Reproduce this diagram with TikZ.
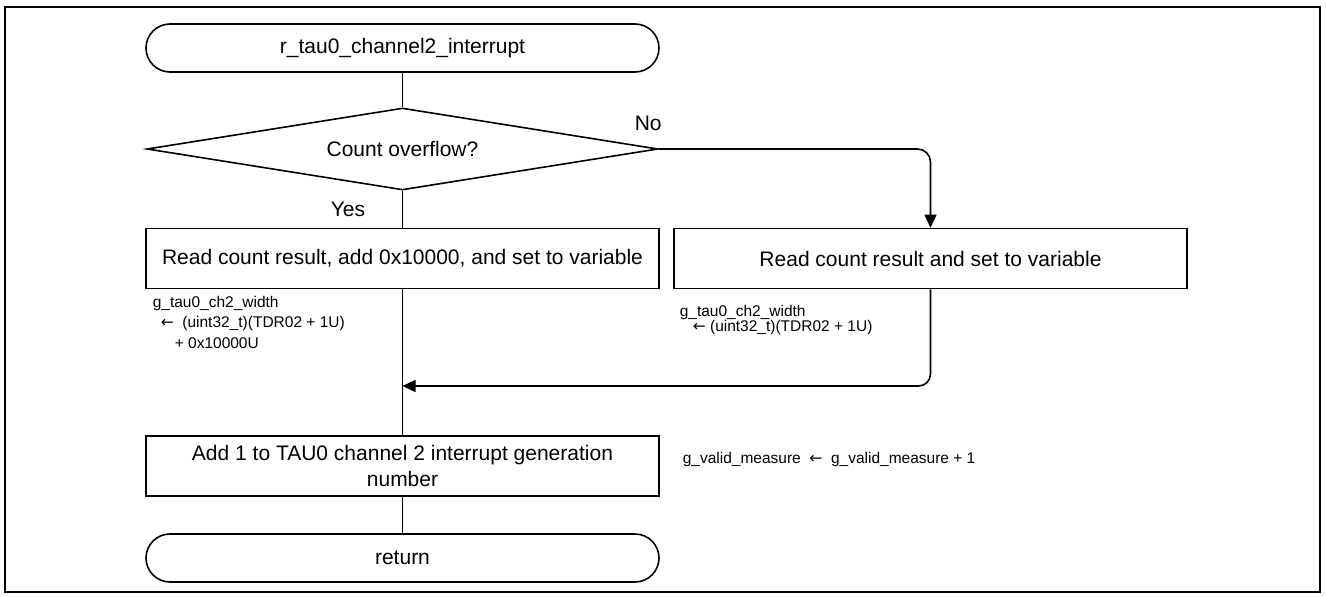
\documentclass[tikz,border=0pt]{standalone}
\usepackage{fontspec}
\setmainfont{Liberation Sans}
\newfontfamily\arrowfont{DejaVu Sans}
\newcommand{\larr}{{\arrowfont ←}}
\usetikzlibrary{shapes.geometric,arrows.meta}
\begin{document}
\begin{tikzpicture}[x=1pt,y=-1pt,
  line width=1.6pt,
  every node/.style={font=\fontsize{21}{25.5}\selectfont},
  term/.style={draw, rectangle, rounded corners=24pt, minimum width=513pt,
    minimum height=48pt, inner sep=0pt},
  proc/.style={draw, rectangle, minimum width=513pt, minimum height=60pt,
    inner sep=0pt, align=center},
  decision/.style={draw, diamond, aspect=6.2, minimum width=511pt,
    minimum height=82pt, inner sep=0pt},
  lbl/.style={inner sep=0pt},
  note/.style={font=\fontsize{15.5}{20}\selectfont, anchor=west, inner sep=0pt},
  arr/.style={-{Triangle[length=13pt,width=12pt]}},
]
\useasboundingbox (0,0) rectangle (1326,597);

% outer frame
\draw (5,7) rectangle (1320,592);

% flow elements
\node[term] (start) at (402.5,48) {r\_tau0\_channel2\_interrupt};
\node[decision] (dec) at (402.5,149) {Count overflow?};
\node[proc] (readadd) at (402.5,258.5) {Read count result, add 0x10000, and set to variable};
\node[proc] (read) at (930.5,258.5) {Read count result and set to variable};
\node[proc] (inc) at (402.5,466) {Add 1 to TAU0 channel 2 interrupt generation\\number};
\node[term] (ret) at (402.5,558) {return};

% branch labels
\node[lbl, anchor=west] (no) at (634,123) {No};
\node[lbl] (yes) at (348,209) {Yes};

% side notes
\node[note] (w1a) at (152,303) {g\_tau0\_ch2\_width};
\node[note] (w1b) at (160,323) {\larr\ \ (uint32\_t)(TDR02 + 1U)};
\node[note] (w1c) at (174,343) {+ 0x10000U};
\node[note] (w2a) at (679,312) {g\_tau0\_ch2\_width};
\node[note] (w2b) at (692,327) {\larr\ (uint32\_t)(TDR02 + 1U)};
\node[note] (cnt) at (682,459) {g\_valid\_measure \ \larr\ \ g\_valid\_measure + 1};

% merge point on the main line
\coordinate (join) at (402.5,386);

% connectors
\draw (start) -- (dec);
\draw (dec.south) -- (readadd.north);
\draw[arr, rounded corners=13pt] (dec.east) -| (read.north);
\draw (readadd) -- (inc);
\draw[arr, rounded corners=12pt] (read.south) |- (join);
\draw (inc) -- (ret);
\end{tikzpicture}
\end{document}
